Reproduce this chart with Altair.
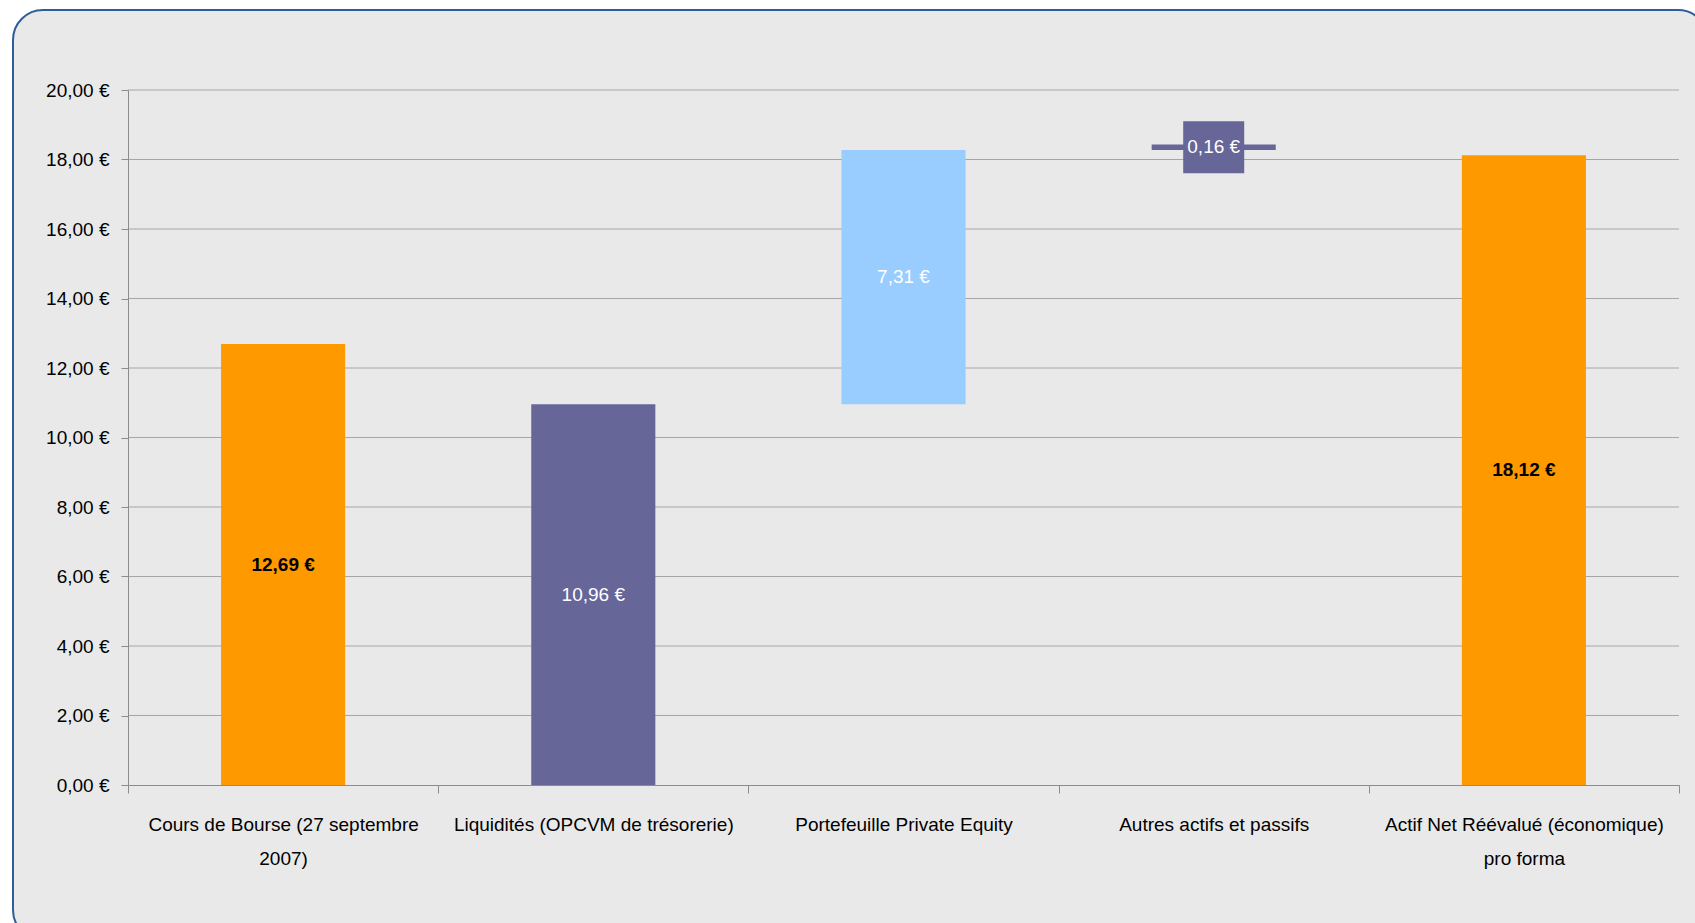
import altair as alt
import pandas as pd

# ---- data ----
categories = [
    "Cours de Bourse (27 septembre\n2007)",
    "Liquidités (OPCVM de trésorerie)",
    "Portefeuille Private Equity",
    "Autres actifs et passifs",
    "Actif Net Réévalué (économique)\npro forma",
]
bases = [0.0, 0.0, 10.96, 18.27, 0.0]
values = [12.69, 10.96, 7.31, 0.16, 18.12]
bar_colors = ["#FF9900", "#666699", "#99CCFF", "#666699", "#FF9900"]
value_labels = ["12,69 €", "10,96 €", "7,31 €", "0,16 €", "18,12 €"]
label_colors = ["#000000", "#FFFFFF", "#FFFFFF", "#FFFFFF", "#000000"]
label_bold = [True, False, False, False, True]
label_boxed = [False, False, False, True, False]
y_ticks = [0, 2, 4, 6, 8, 10, 12, 14, 16, 18, 20]
grid_ticks = [2, 4, 6, 8, 10, 12, 14, 16, 18, 20]

FONT = "Liberation Sans, Arial, sans-serif"
FS = 19
W, H = 1551, 695

df = pd.DataFrame({
    "cat": categories,
    "base": bases,
    "value": values,
    "color": bar_colors,
    "label": value_labels,
    "lcolor": label_colors,
    "bold": label_bold,
    "boxed": label_boxed,
})
grid_df = pd.DataFrame({"tick": grid_ticks})

x_scale = alt.Scale(paddingInner=0, paddingOuter=0)
y_scale = alt.Scale(domain=[0, 20], nice=False)

x_axis = alt.Axis(
    title=None,
    labelAngle=0,
    tickBand="extent",
    tickSize=8,
    labelPadding=22,
    labelLineHeight=34,
    labelLimit=400,
    labelExpr="isValid(datum.value) ? split(datum.value, '\\n') : ''",
    zindex=1,
)
y_axis = alt.Axis(
    title=None,
    values=y_ticks,
    tickSize=7,
    labelPadding=12,
    grid=False,
    labelExpr="replace(format(datum.value, '.2f'), '.', ',') + ' €'",
    zindex=1,
)


def X():
    return alt.X("cat:N", sort=categories, scale=x_scale, axis=x_axis)


def Y(field):
    return alt.Y(field, scale=y_scale, axis=y_axis)


frame = alt.Chart(alt.InlineData(values=[{"a": 1}])).mark_rect(
    cornerRadius=30, fill="#E9E9E9", stroke="#2E5E9A", strokeWidth=2
).encode(
    x=alt.value(-115), x2=alt.value(1580), y=alt.value(-80), y2=alt.value(850)
)

grid = alt.Chart(grid_df).mark_rule(color="#A6A6A6", strokeWidth=1).encode(
    y=Y("tick:Q"),
    x=alt.value(0),
    x2=alt.value(W),
)

base = alt.Chart(df).transform_calculate(
    top="datum.base + datum.value",
    mid="datum.base + datum.value / 2",
)

bars = base.mark_bar(width=alt.RelativeBandSize(0.4)).encode(
    x=X(),
    y=Y("base:Q"),
    y2="top:Q",
    color=alt.Color("color:N", scale=None),
)

box = base.transform_filter("datum.boxed").mark_point(
    shape="M-1,-0.852L1,-0.852L1,0.852L-1,0.852Z",
    size=3721,
    filled=True,
    opacity=1,
    strokeWidth=0,
).encode(
    x=X(),
    y=Y("mid:Q"),
    color=alt.Color("color:N", scale=None),
)

text_bold = base.transform_filter("datum.bold").mark_text(
    font=FONT, fontSize=FS, fontWeight="bold", baseline="middle"
).encode(
    x=X(),
    y=Y("mid:Q"),
    text="label:N",
    color=alt.Color("lcolor:N", scale=None),
)

text_norm = base.transform_filter("!datum.bold").mark_text(
    font=FONT, fontSize=FS, fontWeight="normal", baseline="middle"
).encode(
    x=X(),
    y=Y("mid:Q"),
    text="label:N",
    color=alt.Color("lcolor:N", scale=None),
)

chart = alt.layer(frame, grid, bars, box, text_bold, text_norm).properties(
    width=W,
    height=H,
    autosize=alt.AutoSizeParams(type="none"),
    padding={"left": 128, "top": 90, "right": 16, "bottom": 138},
    background="#FFFFFF",
).configure_view(stroke=None).configure_axis(
    labelFont=FONT,
    labelFontSize=FS,
    labelColor="#000000",
    domainColor="#8C8C8C",
    tickColor="#8C8C8C",
    domainWidth=1,
    tickWidth=1,
)

chart.save("out.html", embed_options={"renderer": "svg", "actions": False})
